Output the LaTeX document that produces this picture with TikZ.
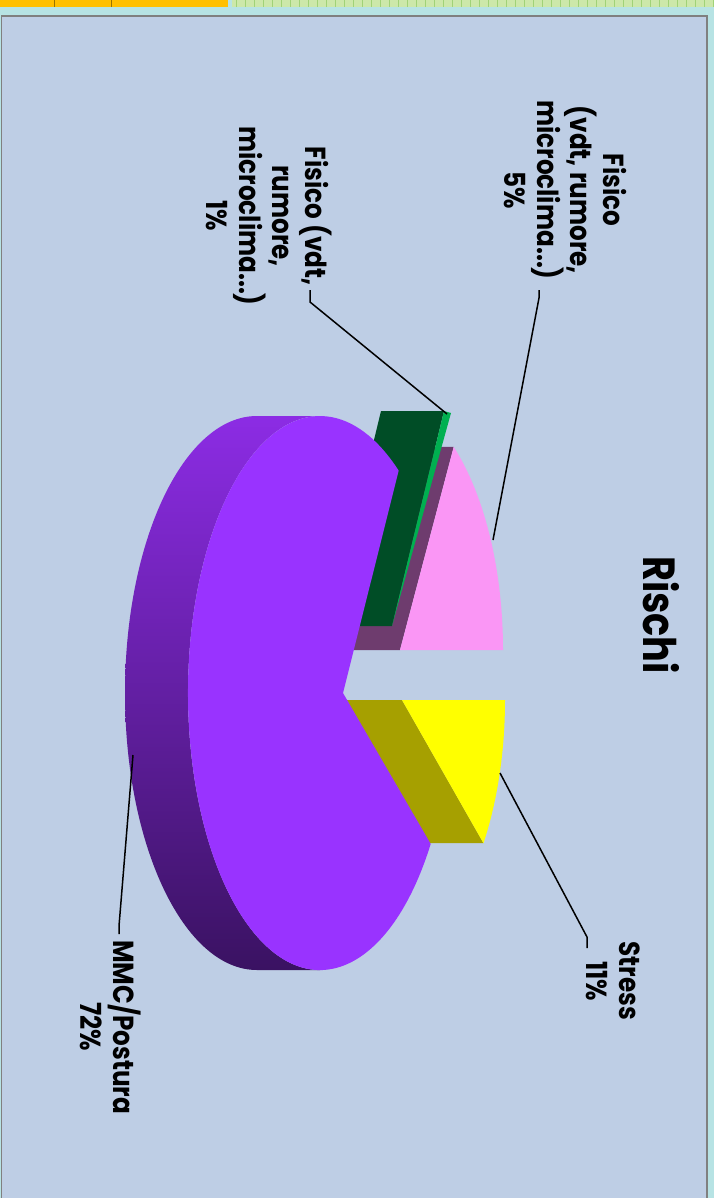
\documentclass[tikz,border=0pt]{standalone}
\usepackage{fontspec}
\setmainfont{Poppins}[FakeStretch=0.85]
\usepackage{xcolor}
\definecolor{FrameCyan}{RGB}{183,227,228}
\definecolor{PlotBlue}{RGB}{190,206,229}
\definecolor{TabOrange}{RGB}{255,192,0}
\definecolor{TabGreen}{RGB}{204,232,170}
\definecolor{TabHatch}{RGB}{160,210,120}
\definecolor{MmcTop}{RGB}{153,51,255}
\definecolor{MmcSideTop}{RGB}{140,44,228}
\definecolor{MmcSideMid}{RGB}{92,27,158}
\definecolor{MmcSideBot}{RGB}{58,18,98}
\definecolor{StressTop}{RGB}{255,255,0}
\definecolor{StressSide}{RGB}{166,160,0}
\definecolor{FisFiveTop}{RGB}{250,150,245}
\definecolor{FisFiveSide}{RGB}{110,60,110}
\definecolor{FisOneTop}{RGB}{0,176,80}
\definecolor{FisOneSide}{RGB}{0,77,38}

\begin{document}
\begin{tikzpicture}[
    x=1pt, y=-1pt,
    slicelabel/.style={rotate=-90, align=center, inner sep=0pt, font=\fontsize{29}{33}\selectfont\bfseries},
    charttitle/.style={rotate=-90, anchor=base, inner sep=0pt, font=\fontsize{45}{48}\selectfont\bfseries},
    leader/.style={line width=1.5pt, black},
]
\useasboundingbox (0,0) rectangle (714,1198);

% ============================================
% FRAME
% ============================================
\fill[FrameCyan] (0,0) rectangle (714,1198);
\fill[TabOrange] (0,0) rectangle (228,7);
\draw[TabOrange!60!black, line width=1pt] (54,0) -- (54,7) (111,0) -- (111,7);
\fill[TabGreen] (232,0) rectangle (714,7);
\foreach \x in {236,245,...,714} \draw[TabHatch, line width=1pt] (\x,0) -- (\x,7);
\filldraw[fill=PlotBlue, draw=gray, line width=1.8pt] (1.5,16) rectangle (707,1205);

% ============================================
% PIE - side walls
% ============================================
\shade[top color=MmcSideTop, middle color=MmcSideMid, bottom color=MmcSideBot]
    (320,416) -- (257,416) arc[start angle=270, end angle=90, x radius=132, y radius=277]
    -- (320,970) arc[start angle=90, end angle=270, x radius=132, y radius=277] -- cycle;
\fill[FisFiveSide] (400,650) -- (453.7,446.9) -- (390.7,446.9) -- (337,650) -- cycle;

% ============================================
% PIE - Fisico 5%
% ============================================
\fill[FisFiveTop] (400,650) -- (503,650) arc[start angle=0, end angle=-52.5, x radius=126, y radius=256] -- cycle;

% ============================================
% PIE - Fisico 1%
% ============================================
\fill[FisOneSide] (392,626) -- (444,411) -- (381,411) -- (329,626) -- cycle;
\fill[FisOneTop] (392,626) -- (444,411) -- (451,413) -- cycle;

% ============================================
% PIE - Stress
% ============================================
\fill[StressSide] (402,700) -- (483.5,843.2) -- (420.5,843.2) -- (339,700) -- cycle;
\fill[StressTop] (402,700) -- (505,700) arc[start angle=0, end angle=34, x radius=126, y radius=256] -- cycle;

% ============================================
% PIE - MMC/Postura
% ============================================
\fill[MmcTop] (343,693) -- (430.7,843.9) arc[start angle=33, end angle=306.6, x radius=132, y radius=277] -- cycle;

% ============================================
% LABELS
% ============================================
\node[charttitle] (title) at (643,615) {Rischi};
\node[slicelabel] (fisfive) at (565,190) {Fisico\\(vdt, rumore,\\microclima...)\\5\%};
\node[slicelabel] (fisone) at (269,216) {Fisico (vdt,\\rumore,\\microclima...)\\1\%};
\node[slicelabel] (stress) at (613,981) {Stress\\11\%};
\node[slicelabel] (mmc) at (111,1027) {MMC/Postura\\72\%};

% ============================================
% LEADER LINES
% ============================================
\coordinate (fisfive-pt) at (493,540);
\coordinate (fisone-pt) at (447,414);
\coordinate (stress-pt) at (500,773);
\coordinate (mmc-pt) at (133,755);
\coordinate (fisfive-end) at (539,290);
\coordinate (fisone-end) at (310,290);
\coordinate (stress-end) at (587,948);
\coordinate (mmc-end) at (119,934);

\draw[leader] (fisfive-end) -- ++(0,8) -- (fisfive-pt);
\draw[leader] (fisone-end) -- ++(0,12) -- (fisone-pt);
\draw[leader] (stress-end) -- ++(0,-11) -- (stress-pt);
\draw[leader] (mmc-end) -- ++(0,-8) -- (mmc-pt);

\end{tikzpicture}
\end{document}
